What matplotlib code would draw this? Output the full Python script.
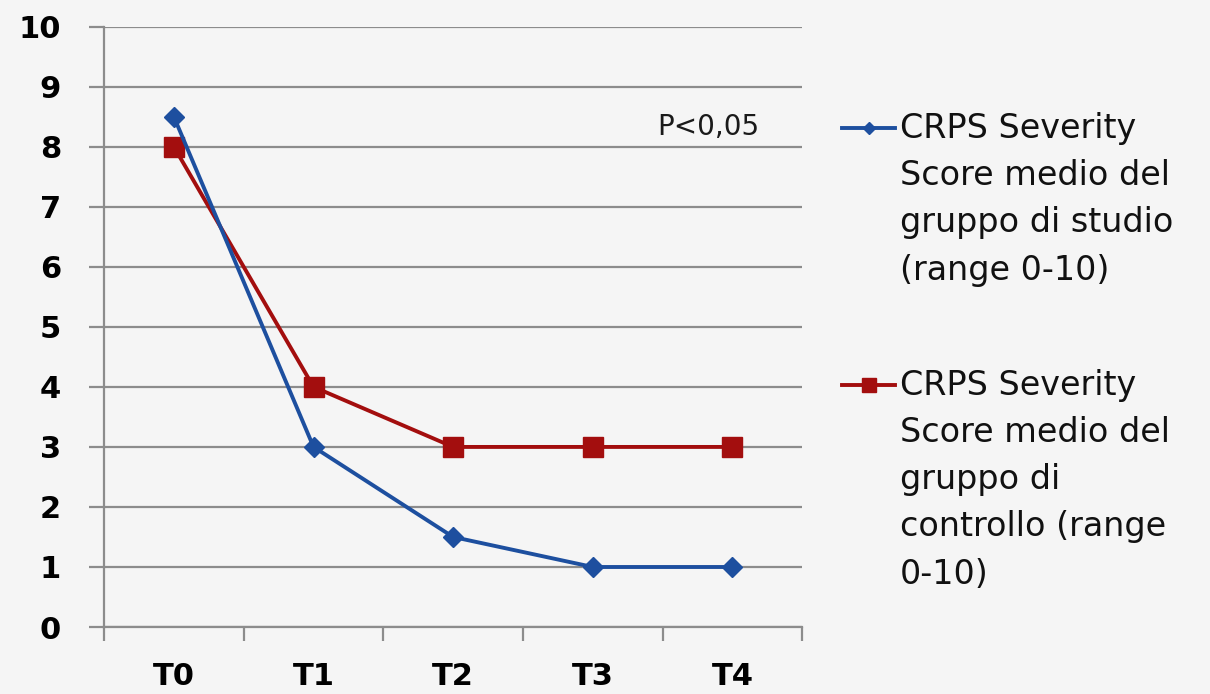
import matplotlib
matplotlib.use('Agg')
import matplotlib.pyplot as plt
from matplotlib.lines import Line2D

plt.rcParams['font.family'] = ['DejaVu Sans']

# data
times = ['T0', 'T1', 'T2', 'T3', 'T4']
studio = [8.5, 3, 1.5, 1, 1]
controllo = [8, 4, 3, 3, 3]
lbl_studio = 'CRPS Severity\nScore medio del\ngruppo di studio\n(range 0-10)'
lbl_controllo = 'CRPS Severity\nScore medio del\ngruppo di\ncontrollo (range\n0-10)'

blue = '#1d4f9f'
red = '#a30e0e'
grid = '#8c8c8c'
bg = '#f5f5f5'

fig = plt.figure(figsize=(12.1, 6.94), dpi=100, facecolor=bg)
ax = fig.add_axes([0.086, 0.0965, 0.577, 0.865], facecolor=bg)

x = list(range(len(times)))
ax.plot(x, studio, color=blue, linewidth=2.8, marker='D', markersize=10, zorder=4)
ax.plot(x, controllo, color=red, linewidth=2.8, marker='s', markersize=14, zorder=3)

ax.set_xlim(-0.5, len(times) - 0.5)
ax.set_ylim(0, 10)
ax.set_yticks(range(0, 11))
ax.yaxis.grid(True, color=grid, linewidth=1.6)
ax.set_axisbelow(True)

# category boundaries as major ticks, labels on minor ticks
ax.set_xticks([i - 0.5 for i in range(len(times) + 1)])
ax.set_xticklabels([])
ax.set_xticks(x, minor=True)
ax.set_xticklabels(times, minor=True, fontsize=22, fontweight='bold')
ax.tick_params(axis='x', which='major', length=10, width=1.6, color=grid, direction='out')
ax.tick_params(axis='x', which='minor', length=0, pad=25)
ax.tick_params(axis='y', length=11, width=1.6, color=grid, pad=20, labelsize=22)
for t in ax.get_yticklabels():
    t.set_fontweight('bold')

for s in ['top', 'right']:
    ax.spines[s].set_visible(False)
for s in ['left', 'bottom']:
    ax.spines[s].set_color(grid)
    ax.spines[s].set_linewidth(1.6)

ax.text(3.83, 8.1, 'P<0,05', fontsize=20, ha='center', va='bottom', color='#1a1a1a')

# legend drawn by hand so the key sits on the first line of each label
for y, col, mk, ms, lbl in [(0.815, blue, 'D', 6, lbl_studio), (0.445, red, 's', 10, lbl_controllo)]:
    fig.add_artist(Line2D([0.696, 0.740], [y, y], transform=fig.transFigure,
                          color=col, linewidth=2.8))
    fig.add_artist(Line2D([0.718], [y], transform=fig.transFigure,
                          color=col, marker=mk, markersize=ms))
    fig.text(0.744, y + 0.024, lbl, fontsize=24, va='top', ha='left',
             linespacing=1.55, color='#111111')

fig.savefig('out.png', dpi=100, facecolor=bg)
